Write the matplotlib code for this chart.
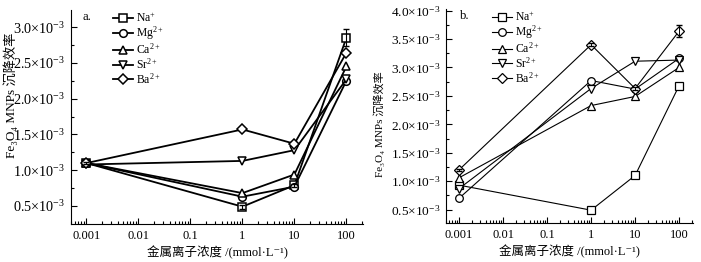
import matplotlib
matplotlib.use("Agg")
from matplotlib import pyplot as plt
from matplotlib.ticker import FixedLocator, FuncFormatter, LogLocator, NullFormatter

plt.rcParams['font.family'] = ['Liberation Serif', 'Noto Sans CJK SC', 'DejaVu Serif']
plt.rcParams['mathtext.fontset'] = 'custom'
plt.rcParams['mathtext.rm'] = 'Liberation Serif'
plt.rcParams['mathtext.it'] = 'Liberation Serif:italic'
plt.rcParams['font.size'] = 9.5

# concentrations (mmol/L)
conc = [0.001, 1, 10, 100]
ions = ['Na$^{+}$', 'Mg$^{2+}$', 'Ca$^{2+}$', 'Sr$^{2+}$', 'Ba$^{2+}$']
markers = ['s', 'o', '^', 'v', 'D']

# panel a values (x1e-3)
a_na = [1.10, 0.49, 0.79, 2.85]
a_mg = [1.10, 0.63, 0.77, 2.25]
a_ca = [1.10, 0.68, 0.94, 2.45]
a_sr = [1.08, 1.13, 1.28, 2.27]
a_ba = [1.10, 1.57, 1.37, 2.64]
a_err_na = [0.02, 0.03, 0.02, 0.12]

# panel b values (x1e-3)
b_na = [0.93, 0.49, 1.10, 2.68]
b_mg = [0.70, 2.77, 2.62, 3.16]
b_ca = [1.06, 2.33, 2.49, 3.00]
b_sr = [0.87, 2.63, 3.11, 3.13]
b_ba = [1.20, 3.40, 2.63, 3.64]
b_err_ba = [0.02, 0.03, 0.03, 0.10]

xlabel = '金属离子浓度 /(mmol·L⁻¹)'
ylabel = 'Fe₃O₄ MNPs 沉降效率'

fig = plt.figure(figsize=(7.01, 2.62), dpi=100)
ax1 = fig.add_axes([0.101, 0.145, 0.417, 0.817])
ax2 = fig.add_axes([0.636, 0.149, 0.353, 0.817])


def style(ax, ylim, yticks, legx, tag, tagx, ylab_size, ytick_size):
    ax.set_xscale('log')
    ax.set_xlim(0.0005, 210)
    ax.set_ylim(*ylim)
    ax.spines['top'].set_visible(False)
    ax.spines['right'].set_visible(False)
    ax.xaxis.set_major_locator(FixedLocator(conc[:1] + [0.01, 0.1] + conc[1:]))
    ax.xaxis.set_minor_locator(LogLocator(base=10, subs=range(2, 10), numticks=20))
    ax.xaxis.set_minor_formatter(NullFormatter())
    ax.xaxis.set_major_formatter(FuncFormatter(lambda v, p: ('%g' % v)))
    ax.yaxis.set_major_locator(FixedLocator(yticks))
    ax.yaxis.set_minor_locator(FixedLocator([t + 0.25 for t in yticks]))
    ax.yaxis.set_major_formatter(FuncFormatter(lambda v, p: r'%.1f$\times$10$^{-3}$' % v))
    ax.tick_params(which='major', direction='in', length=4, width=0.8, pad=4)
    ax.tick_params(which='minor', direction='in', length=2.5, width=0.8)
    ax.tick_params(axis='x', labelsize=9)
    ax.tick_params(axis='y', labelsize=ytick_size)
    ax.set_xlabel(xlabel, fontsize=9, labelpad=3)
    ax.set_ylabel(ylabel, fontsize=ylab_size)
    ax.text(tagx, 0.995, tag, transform=ax.transAxes, va='top', ha='left', fontsize=9)
    ax.legend(loc='upper left', bbox_to_anchor=(legx, 0.995), frameon=False,
              borderaxespad=0, borderpad=0, handlelength=1.7, handletextpad=0.3,
              labelspacing=0.0, fontsize=8.4)


# panel a
series_a = [a_na, a_mg, a_ca, a_sr, a_ba]
for vals, lab, mk in zip(series_a, ions, markers):
    ax1.plot(conc, vals, marker=mk, color='black', mfc='white', mec='black',
             lw=1.3, ms=5.5 if mk != 'D' else 4.8, mew=1.1, label=lab)
ax1.errorbar(conc, a_na, yerr=a_err_na, fmt='none', ecolor='black', elinewidth=0.8, capsize=2)
style(ax1, (0.248, 3.24), [0.5, 1.0, 1.5, 2.0, 2.5, 3.0], 0.144, 'a.', 0.04, 9.5, 10.2)
ax1.yaxis.set_label_coords(-0.18, 0.6)

# panel b
series_b = [b_na, b_mg, b_ca, b_sr, b_ba]
for vals, lab, mk in zip(series_b, ions, markers):
    ax2.plot(conc, vals, marker=mk, color='black', mfc='white', mec='black',
             lw=0.8, ms=5.5 if mk != 'D' else 4.8, mew=0.9, label=lab)
ax2.errorbar(conc, b_ba, yerr=b_err_ba, fmt='none', ecolor='black', elinewidth=0.7, capsize=2)
style(ax2, (0.265, 4.03), [0.5, 1.0, 1.5, 2.0, 2.5, 3.0, 3.5, 4.0], 0.186, 'b.', 0.057, 8, 9.6)
ax2.yaxis.set_label_coords(-0.245, 0.46)

fig.savefig('out.png', dpi=100)
